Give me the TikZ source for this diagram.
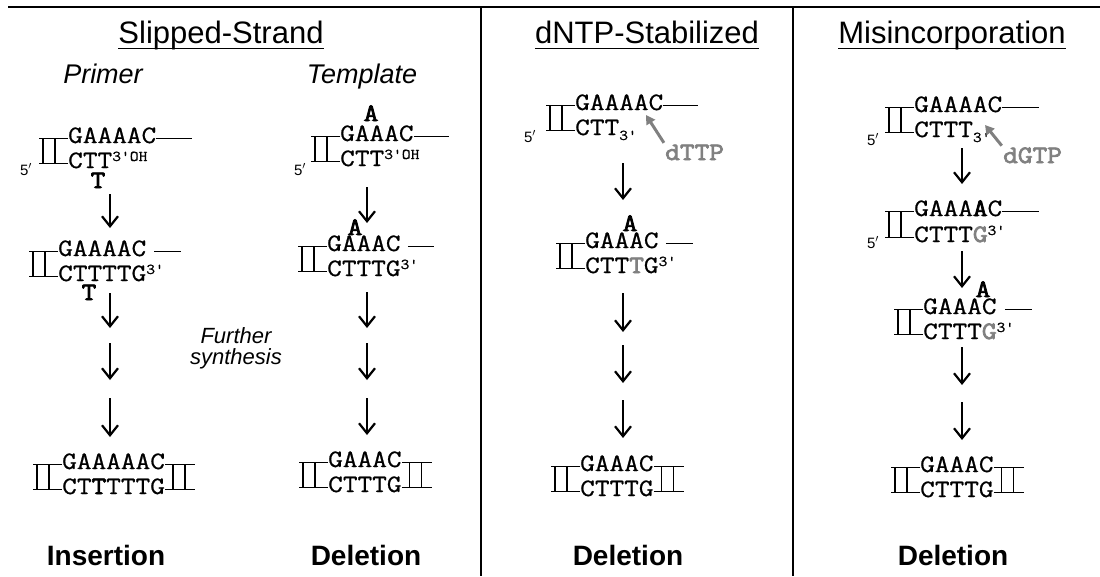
\documentclass[tikz,border=0pt]{standalone}
\usepackage{fontspec}
\setmainfont{Liberation Sans}
\newfontfamily\dnafam{Latin Modern Mono}[FakeStretch=1.14,FakeBold=0.8]
\newfontfamily\dnabold{Latin Modern Mono}[FakeStretch=1.14,FakeBold=3]
\usetikzlibrary{arrows.meta}
\definecolor{ntpgray}{gray}{0.5}
\newcommand{\dnafont}{\dnafam\fontsize{25}{25}\selectfont}
\newcommand{\heavy}[1]{{\dnabold #1}}
\newcommand{\supnote}[1]{\raisebox{7pt}{\fontsize{15}{15}\selectfont #1}}
\newcommand{\subnote}[1]{\raisebox{-5pt}{\fontsize{15}{15}\selectfont #1}}
\newcommand{\clampleft}[2]{\draw[ladder] ([yshift=2pt]#1.mid west) -- ++(-29,0) ([yshift=2pt]#2.mid west) -- ++(-29,0)
  ([shift={(-25pt,2pt)}]#1.mid west) -- ([shift={(-25pt,2pt)}]#2.mid west)
  ([shift={(-13pt,2pt)}]#1.mid west) -- ([shift={(-13pt,2pt)}]#2.mid west);}
\newcommand{\clampright}[2]{\draw[ladder] ([yshift=2pt]#1.mid east) -- ++(30,0) ([yshift=2pt]#2.mid east) -- ++(30,0)
  ([shift={(8pt,2pt)}]#1.mid east) -- ([shift={(8pt,2pt)}]#2.mid east)
  ([shift={(20pt,2pt)}]#1.mid east) -- ([shift={(20pt,2pt)}]#2.mid east);}

\begin{document}
\begin{tikzpicture}[x=1pt,y=-1pt]
	\tikzstyle{heading}=[anchor=base,inner sep=0pt,text depth=5pt,font=\fontsize{31}{31}\selectfont]
	\tikzstyle{subhead}=[anchor=base,inner sep=0pt,font=\fontsize{27}{27}\selectfont\itshape]
	\tikzstyle{result}=[anchor=base,inner sep=0pt,font=\fontsize{28}{28}\selectfont\bfseries]
	\tikzstyle{strand}=[anchor=base west,inner sep=0pt,font=\dnafont]
	\tikzstyle{extra}=[anchor=base,inner sep=0pt,font=\dnabold\fontsize{25}{25}\selectfont]
	\tikzstyle{five}=[anchor=base,inner sep=0pt,font=\fontsize{15}{15}\selectfont]
	\tikzstyle{ntp}=[anchor=base west,inner sep=0pt,font=\dnabold\fontsize{25}{25}\selectfont,text=ntpgray]
	\tikzstyle{down}=[-{Straight Barb[length=10pt,width=16pt]},line width=2.2pt]
	\tikzstyle{attack}=[-{Triangle[length=9pt,width=10pt]},line width=3pt,draw=ntpgray,fill=ntpgray,shorten <=2pt]
	\tikzstyle{ladder}=[line width=1.3pt]

	\useasboundingbox (0,0) rectangle (1100,576);

	% frame
	\draw[line width=1.5pt] (8,7) -- (1100,7) (481,7) -- (481,576) (793,7) -- (793,576);

	% headings
	\node[heading] (slip) at (221,43) {Slipped-Strand};
	\node[heading] (stab) at (647,43) {dNTP-Stabilized};
	\node[heading] (misinc) at (952,43) {Misincorporation};
	\draw[line width=1.2pt] (slip.south west) -- (slip.south east)
		(stab.south west) -- (stab.south east)
		(misinc.south west) -- (misinc.south east);
	\node[subhead] (primer) at (103,83) {Primer};
	\node[subhead] (template) at (362,83) {Template};

	% slipped strand, primer
	\node[strand] (p1t) at (68,143) {GAAAAC};
	\node[strand] (p1b) at (68,168) {CTT\supnote{3'OH}};
	\node[five] (p1five) at (26,175) {5$'$};
	\node[extra] (p1x) at (98,188) {T};
	\clampleft{p1t}{p1b}
	\draw[ladder] ([yshift=2pt]p1t.mid east) -- ++(36,0);

	\node[strand] (p2t) at (58,256) {GAAAAC};
	\node[strand] (p2b) at (58,281) {CTTTTG\supnote{3'}};
	\node[extra] (p2x) at (89,300) {T};
	\clampleft{p2t}{p2b}
	\draw[ladder] ([shift={(8pt,2pt)}]p2t.mid east) -- ++(27,0);

	\node[strand] (p3t) at (62,469) {GAAAAAC};
	\node[strand] (p3b) at (62,494) {CT\heavy{T}TTTG};
	\clampleft{p3t}{p3b}
	\clampright{p3t}{p3b}

	\node[anchor=center,inner sep=0pt,align=center,font=\fontsize{22}{21}\selectfont\itshape] (further) at (236,348) {Further\\synthesis};

	% slipped strand, template
	\node[strand] (t1t) at (340,141) {GAAAC};
	\node[strand] (t1b) at (340,166) {CTT\supnote{3'OH}};
	\node[five] (t1five) at (300,175) {5$'$};
	\node[extra] (t1x) at (371,121) {A};
	\clampleft{t1t}{t1b}
	\draw[ladder] ([yshift=2pt]t1t.mid east) -- ++(35,0);

	\node[strand] (t2t) at (327,251) {GAAAC};
	\node[strand] (t2b) at (327,276) {CTTTG\supnote{3'}};
	\node[extra] (t2x) at (355,235) {A};
	\clampleft{t2t}{t2b}
	\draw[ladder] ([shift={(7pt,2pt)}]t2t.mid east) -- ++(26,0);

	\node[strand] (t3t) at (328,467) {GAAAC};
	\node[strand] (t3b) at (328,492) {CTTTG};
	\clampleft{t3t}{t3b}
	\clampright{t3t}{t3b}

	% dNTP-stabilized
	\node[strand] (d1t) at (575,110) {GAAAAC};
	\node[strand] (d1b) at (575,135) {CTT\subnote{3'}};
	\node[five] (d1five) at (530,142) {5$'$};
	\clampleft{d1t}{d1b}
	\draw[ladder] ([yshift=2pt]d1t.mid east) -- ++(35,0);
	\node[ntp] (dttp) at (665,160) {dTTP};
	\coordinate (dtip) at (646,115);
	\draw[attack] (dttp.north west) -- (dtip);

	\node[strand] (d2t) at (585,248) {GAAAC};
	\node[strand] (d2b) at (585,273) {CTT\textcolor{ntpgray}{\heavy{T}}G\supnote{3'}};
	\node[extra] (d2x) at (630,231) {A};
	\clampleft{d2t}{d2b}
	\draw[ladder] ([shift={(7pt,2pt)}]d2t.mid east) -- ++(27,0);

	\node[strand] (d3t) at (580,471) {GAAAC};
	\node[strand] (d3b) at (580,496) {CTTTG};
	\clampleft{d3t}{d3b}
	\clampright{d3t}{d3b}

	% misincorporation
	\node[strand] (m1t) at (914,112) {GAAAAC};
	\node[strand] (m1b) at (914,137) {CTTT\subnote{3'}};
	\node[five] (m1five) at (873,145) {5$'$};
	\clampleft{m1t}{m1b}
	\draw[ladder] ([yshift=2pt]m1t.mid east) -- ++(37,0);
	\node[ntp] (dgtp) at (1003,163) {dGTP};
	\coordinate (mtip) at (985,125);
	\draw[attack] (dgtp.north west) -- (mtip);

	\node[strand] (m2t) at (914,216) {GAAA\heavy{A}C};
	\node[strand] (m2b) at (914,242) {CTTT\textcolor{ntpgray}{\heavy{G}}\supnote{3'}};
	\node[five] (m2five) at (873,248) {5$'$};
	\clampleft{m2t}{m2b}
	\draw[ladder] ([yshift=2pt]m2t.mid east) -- ++(37,0);

	\node[strand] (m3t) at (923,314) {GAAAC};
	\node[strand] (m3b) at (923,339) {CTTT\textcolor{ntpgray}{\heavy{G}}\supnote{3'}};
	\node[extra] (m3x) at (983,297) {A};
	\clampleft{m3t}{m3b}
	\draw[ladder] ([shift={(8pt,2pt)}]m3t.mid east) -- ++(27,0);

	\node[strand] (m4t) at (920,472) {GAAAC};
	\node[strand] (m4b) at (920,497) {CTTTG};
	\clampleft{m4t}{m4b}
	\clampright{m4t}{m4b}

	% arrows
	\coordinate (pa1) at (110,194); \coordinate (pb1) at (110,228);
	\coordinate (pa2) at (110,293); \coordinate (pb2) at (110,328);
	\coordinate (pa3) at (110,343); \coordinate (pb3) at (110,380);
	\coordinate (pa4) at (110,398); \coordinate (pb4) at (110,437);
	\coordinate (ta1) at (367,187); \coordinate (tb1) at (367,223);
	\coordinate (ta2) at (367,292); \coordinate (tb2) at (367,328);
	\coordinate (ta3) at (367,343); \coordinate (tb3) at (367,380);
	\coordinate (ta4) at (367,398); \coordinate (tb4) at (367,435);
	\coordinate (da1) at (623,163); \coordinate (db1) at (623,200);
	\coordinate (da2) at (623,293); \coordinate (db2) at (623,332);
	\coordinate (da3) at (623,345); \coordinate (db3) at (623,383);
	\coordinate (da4) at (623,400); \coordinate (db4) at (623,438);
	\coordinate (ma1) at (962,148); \coordinate (mb1) at (962,184);
	\coordinate (ma2) at (962,251); \coordinate (mb2) at (962,288);
	\coordinate (ma3) at (962,347); \coordinate (mb3) at (962,385);
	\coordinate (ma4) at (962,402); \coordinate (mb4) at (962,440);
	\draw[down] (pa1) -- (pb1);
	\draw[down] (pa2) -- (pb2);
	\draw[down] (pa3) -- (pb3);
	\draw[down] (pa4) -- (pb4);
	\draw[down] (ta1) -- (tb1);
	\draw[down] (ta2) -- (tb2);
	\draw[down] (ta3) -- (tb3);
	\draw[down] (ta4) -- (tb4);
	\draw[down] (da1) -- (db1);
	\draw[down] (da2) -- (db2);
	\draw[down] (da3) -- (db3);
	\draw[down] (da4) -- (db4);
	\draw[down] (ma1) -- (mb1);
	\draw[down] (ma2) -- (mb2);
	\draw[down] (ma3) -- (mb3);
	\draw[down] (ma4) -- (mb4);

	% outcomes
	\node[result] (ins) at (106,565) {Insertion};
	\node[result] (del1) at (366,565) {Deletion};
	\node[result] (del2) at (628,565) {Deletion};
	\node[result] (del3) at (953,565) {Deletion};
\end{tikzpicture}
\end{document}
